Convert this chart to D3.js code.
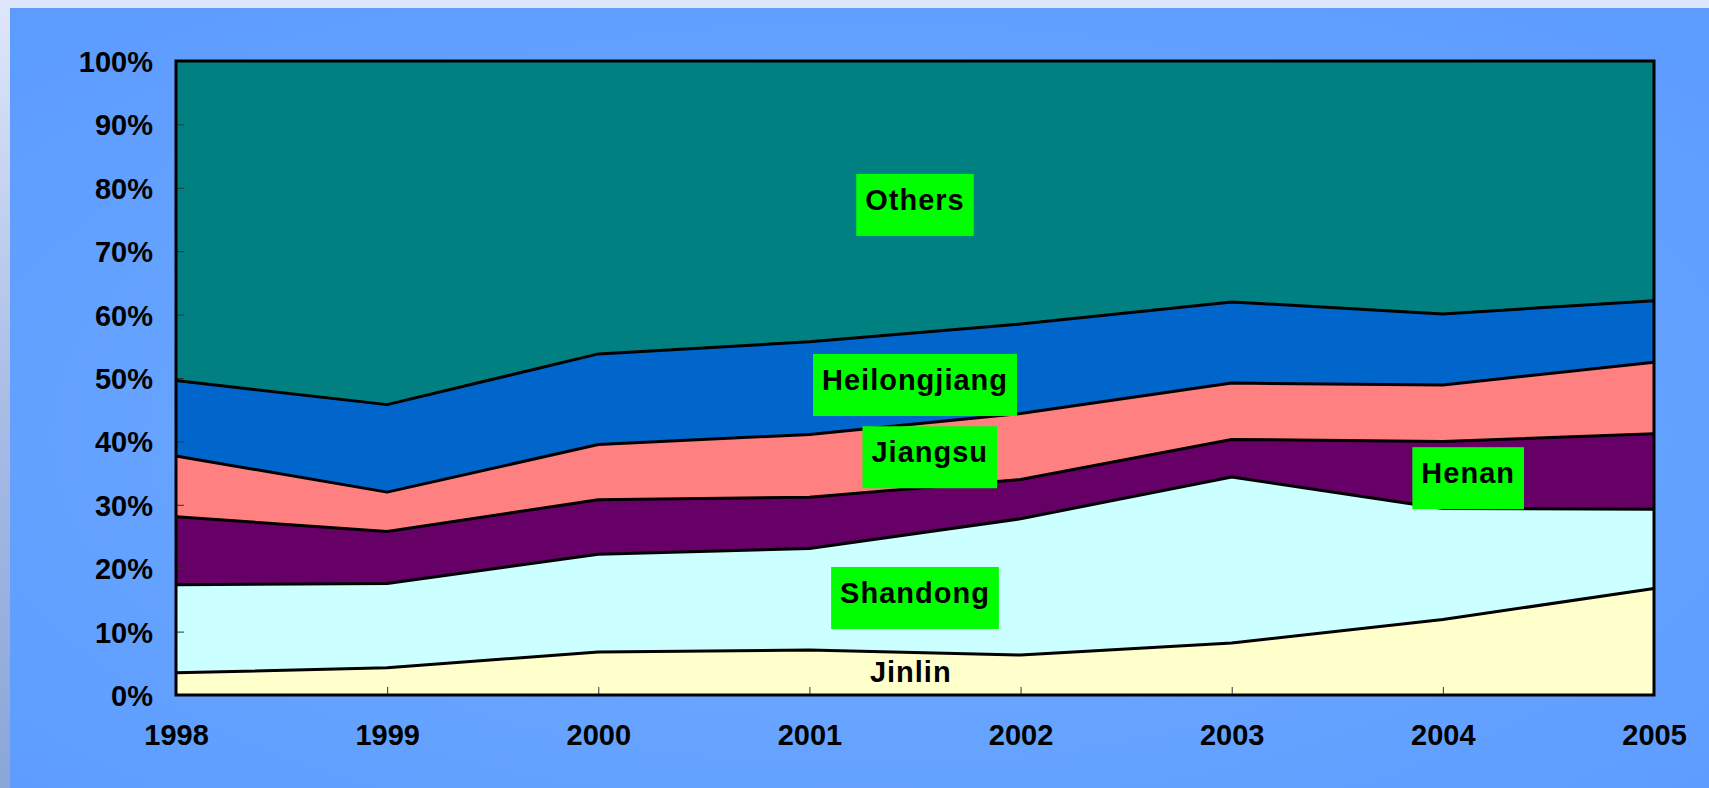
<!DOCTYPE html>
<html>
<head>
<meta charset="utf-8">
<script src="https://cdn.jsdelivr.net/npm/d3@7"></script>
<style>
  body { margin: 0; overflow: hidden; }
  text { font-family: "Liberation Sans", Arial, sans-serif; font-weight: bold; }
</style>
</head>
<body>
<div id="chart"></div>
<script>
// data (percent share per year)
const years = ['1998', '1999', '2000', '2001', '2002', '2003', '2004', '2005'];
const jinlin       = [3.5, 4.3, 6.8, 7.1, 6.3, 8.2, 11.9, 16.8];
const shandong     = [13.9, 13.3, 15.4, 16.0, 21.5, 26.2, 17.5, 12.5];
const henan        = [10.7, 8.2, 8.6, 8.1, 6.2, 5.9, 10.6, 11.9];
const jiangsu      = [9.6, 6.2, 8.7, 9.9, 10.4, 8.9, 8.9, 11.3];
const heilongjiang = [11.9, 13.8, 14.3, 14.6, 14.1, 12.8, 11.2, 9.7];
const others       = [50.4, 54.2, 46.2, 44.3, 41.5, 38.0, 39.9, 37.8];
const seriesNames  = ['Jinlin', 'Shandong', 'Henan', 'Jiangsu', 'Heilongjiang', 'Others'];
const yTicks = [0, 10, 20, 30, 40, 50, 60, 70, 80, 90, 100];

const colours = {
    Jinlin: '#ffffcc', Shandong: '#ccffff', Henan: '#660066',
    Jiangsu: '#ff8080', Heilongjiang: '#0066cc', Others: '#008080'
};

const width = 1709;
const height = 788;
const plotLeft = 176, plotRight = 1654, plotTop = 61, plotBottom = 695;

// build rows for d3.stack
const cols = [jinlin, shandong, henan, jiangsu, heilongjiang, others];
const rows = years.map((yr, i) => {
    const r = {year: yr};
    seriesNames.forEach((n, k) => r[n] = cols[k][i]);
    return r;
});
const stacked = d3.stack().keys(seriesNames)(rows);

const x = d3.scalePoint().domain(years).range([plotLeft, plotRight]);
const y = d3.scaleLinear().domain([0, 100]).range([plotBottom, plotTop]);
const xi = d3.scaleLinear().domain([0, years.length - 1]).range([plotLeft, plotRight]);

let svg = d3.select('#chart').append('svg')
    .attr('width', width)
    .attr('height', height);

// background
const defs = svg.append('defs');
const bg = defs.append('radialGradient').attr('id', 'bg')
    .attr('cx', '50%').attr('cy', '55%').attr('r', '70%');
bg.append('stop').attr('offset', '0%').attr('stop-color', '#72adff');
bg.append('stop').attr('offset', '100%').attr('stop-color', '#5d9cff');
const side = defs.append('linearGradient').attr('id', 'side')
    .attr('x1', 0).attr('y1', 0).attr('x2', 0).attr('y2', 1);
side.append('stop').attr('offset', '0%').attr('stop-color', '#dfe7fb');
side.append('stop').attr('offset', '50%').attr('stop-color', '#a9bde6');
side.append('stop').attr('offset', '100%').attr('stop-color', '#8aa6d8');

svg.append('rect').attr('width', width).attr('height', height).attr('fill', 'url(#side)');
svg.append('rect').attr('width', width).attr('height', 8).attr('fill', '#dde6fb');
svg.append('rect').attr('x', 10).attr('y', 8)
    .attr('width', width - 10).attr('height', height - 8)
    .attr('fill', 'url(#bg)');

// areas
const area = d3.area()
    .x(d => x(d.data.year))
    .y0(d => y(d[0]))
    .y1(d => y(d[1]));

svg.append('g').selectAll('path')
    .data(stacked)
    .enter()
    .append('path')
        .attr('d', area)
        .attr('fill', d => colours[d.key]);

// boundary lines
const line = d3.line()
    .x(d => x(d.data.year))
    .y(d => y(d[1]));

svg.append('g').selectAll('path')
    .data(stacked.slice(0, -1))
    .enter()
    .append('path')
        .attr('d', line)
        .attr('fill', 'none')
        .attr('stroke', '#000')
        .attr('stroke-width', 3)
        .attr('stroke-linejoin', 'round');

// axes
const yAxis = svg.append('g')
    .attr('transform', `translate(${plotLeft},0)`)
    .call(d3.axisLeft(y).tickValues(yTicks).tickFormat(d => d + '%')
        .tickSizeInner(-8).tickSizeOuter(0).tickPadding(23));
yAxis.select('.domain').remove();
yAxis.selectAll('line').attr('stroke', '#333');
yAxis.selectAll('text').attr('font-size', 29).attr('fill', '#000').attr('dy', '0.36em');

const xAxis = svg.append('g')
    .attr('transform', `translate(0,${plotBottom})`)
    .call(d3.axisBottom(x).tickSizeInner(-8).tickSizeOuter(0));
xAxis.select('.domain').remove();
xAxis.selectAll('line').attr('stroke', '#333');
xAxis.selectAll('text').attr('font-size', 29).attr('fill', '#000')
    .attr('y', 50).attr('dy', 0);

// plot frame
svg.append('rect')
    .attr('x', plotLeft).attr('y', plotTop)
    .attr('width', plotRight - plotLeft).attr('height', plotBottom - plotTop)
    .attr('fill', 'none').attr('stroke', '#000').attr('stroke-width', 3);

// series labels: [name, year index, percent, boxed]
const labels = [
    ['Others', 3.5, 77.3, true],
    ['Heilongjiang', 3.5, 48.9, true],
    ['Jiangsu', 3.57, 37.5, true],
    ['Shandong', 3.5, 15.3, true],
    ['Henan', 6.12, 34.2, true],
    ['Jinlin', 3.48, 2.8, false]
];

labels.forEach(([name, xv, yv, boxed]) => {
    const g = svg.append('g');
    const cx = xi(xv), cy = y(yv);
    const t = g.append('text')
        .attr('x', cx).attr('y', cy + 5)
        .attr('text-anchor', 'middle')
        .attr('font-size', 29)
        .attr('letter-spacing', 1)
        .attr('fill', '#000')
        .text(name);
    if (boxed) {
        const w = t.node().getComputedTextLength();
        g.insert('rect', 'text')
            .attr('x', cx - w / 2 - 9).attr('y', cy - 31)
            .attr('width', w + 18).attr('height', 62)
            .attr('fill', '#00ff00');
    }
});
</script>
</body>
</html>
